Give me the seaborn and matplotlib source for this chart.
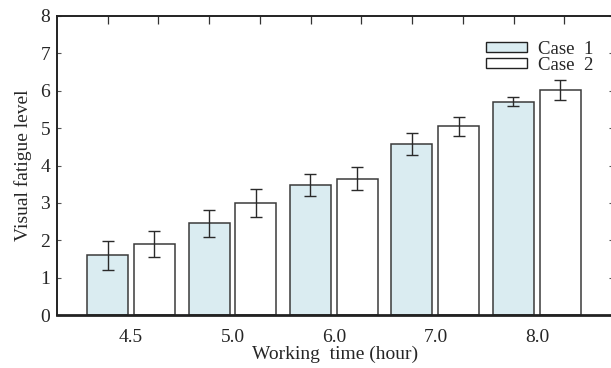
import numpy as np
import pandas as pd
import matplotlib
matplotlib.use("Agg")
import matplotlib.pyplot as plt
import seaborn as sns
from matplotlib.patches import Patch

# ---- data ----
categories = ["4.5", "5.0", "6.0", "7.0", "8.0"]
series_names = ["Case 1", "Case 2"]
legend_labels = ["Case  1", "Case  2"]
case1_values = [1.60, 2.46, 3.48, 4.58, 5.71]
case1_errors = [0.39, 0.36, 0.30, 0.30, 0.11]
case2_values = [1.89, 2.99, 3.65, 5.05, 6.02]
case2_errors = [0.35, 0.37, 0.31, 0.25, 0.27]
y_ticks = [0, 1, 2, 3, 4, 5, 6, 7, 8]

df = pd.DataFrame({
    "time": categories * 2,
    "case": [series_names[0]] * len(categories) + [series_names[1]] * len(categories),
    "value": case1_values + case2_values,
})

sns.set_theme(style="white")
plt.rcParams["font.family"] = ["Liberation Serif", "DejaVu Serif"]

fig = plt.figure(figsize=(6.11, 3.68), dpi=100)
ax = fig.add_axes([57 / 611, 1 - 315 / 368, (613 - 57) / 611, (315 - 16) / 368])

face_colors = {"Case 1": "#daecf1", "Case 2": "#ffffff"}
sns.barplot(data=df, x="time", y="value", hue="case", order=categories,
            hue_order=series_names, palette=face_colors, width=0.924, gap=0.125,
            errorbar=None, edgecolor="#3a3a3a", linewidth=1.1, saturation=1,
            legend=False, ax=ax)

# error bars at bar centres
n = len(categories)
bars = [p for p in ax.patches][: 2 * n]
all_vals = case1_values + case2_values
all_errs = case1_errors + case2_errors
xs = [b.get_x() + b.get_width() / 2 for b in bars]
ax.errorbar(xs, all_vals, yerr=all_errs, fmt="none", ecolor="#2a2a2a",
            elinewidth=1.0, capsize=4, capthick=1.0, zorder=5)

ax.set_xlim(-0.729, 4.75)
ax.set_ylim(0, 8)
ax.set_yticks(y_ticks)
ax.set_yticklabels([str(t) for t in y_ticks], fontsize=14)
ax.tick_params(axis="x", labelsize=14, length=0, pad=10)
ax.tick_params(axis="y", direction="in", length=3, width=0.8, color="#555555",
               left=True, right=True, pad=5)
ax.set_xlabel("Working  time (hour)", fontsize=14, labelpad=0)
ax.set_ylabel("Visual fatigue level", fontsize=14, labelpad=6)

for side in ["left", "bottom", "top"]:
    ax.spines[side].set_visible(True)
    ax.spines[side].set_color("#222222")
    ax.spines[side].set_linewidth(1.4)
ax.spines["bottom"].set_linewidth(2.0)
ax.spines["right"].set_visible(False)

# top inward ticks
top = ax.secondary_xaxis("top")
top.set_xticks([-0.23 + 0.5 * k for k in range(10)])
top.set_xticklabels([])
top.tick_params(direction="in", length=6, width=0.9, color="#333333")
top.spines["top"].set_visible(False)

handles = [Patch(facecolor=face_colors[s], edgecolor="#222222", linewidth=1.0)
           for s in series_names]
leg = ax.legend(handles, legend_labels, loc="upper right",
                bbox_to_anchor=(0.985, 0.955), frameon=False, fontsize=13.5,
                handlelength=2.2, handleheight=0.45, labelspacing=-0.05,
                handletextpad=0.6, borderaxespad=0.2)

fig.savefig("out.png", dpi=100)
